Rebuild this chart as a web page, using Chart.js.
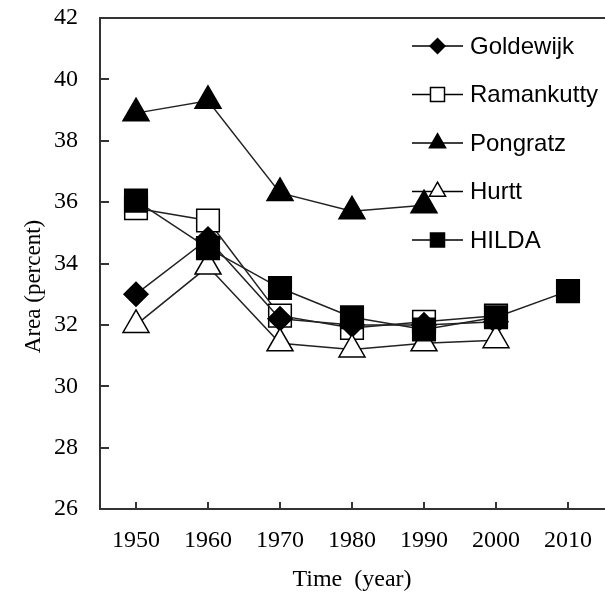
<!DOCTYPE html>
<html>
<head>
<meta charset="utf-8">
<script src="https://cdn.jsdelivr.net/npm/chart.js@4.4.1/dist/chart.umd.min.js"></script>
<style>
  html, body { margin: 0; padding: 0; background: #fff; overflow: hidden; }
  #wrap { width: 605px; height: 598px; }
</style>
</head>
<body>
<div id="wrap"><canvas id="areaChart"></canvas></div>
<script>
// Land area share per data source
const YEARS = ['1950', '1960', '1970', '1980', '1990', '2000', '2010'];
const Y_TICKS = [26, 28, 30, 32, 34, 36, 38, 40, 42];
const GOLDEWIJK = [33.0, 34.8, 32.2, 32.0, 32.0, 32.1, null];
const RAMANKUTTY = [35.8, 35.4, 32.3, 31.9, 32.1, 32.3, null];
const PONGRATZ = [38.9, 39.3, 36.3, 35.7, 35.9, null, null];
const HURTT = [32.0, 33.9, 31.4, 31.2, 31.4, 31.5, null];
const HILDA = [36.05, 34.5, 33.2, 32.25, 31.85, 32.25, 33.1];

const AXIS_COLOR = '#333';
const LINE_COLOR = '#222';

function series(label, data, style, fill, radius, order) {
  return {
    label: label,
    data: data,
    borderColor: LINE_COLOR,
    borderWidth: 1.5,
    pointStyle: style,
    pointRadius: radius,
    pointHoverRadius: radius,
    pointBackgroundColor: fill,
    pointBorderColor: '#000',
    pointBorderWidth: 1.5,
    spanGaps: false,
    tension: 0,
    order: order,
    legendRadius: radius * 0.62
  };
}

// inward tick marks + top frame line
const frameTicks = {
  id: 'frameTicks',
  afterDraw(chart) {
    const ctx = chart.ctx;
    const area = chart.chartArea;
    const xs = chart.scales.x;
    const ys = chart.scales.y;
    ctx.save();
    ctx.strokeStyle = AXIS_COLOR;
    ctx.lineWidth = 2;
    ctx.beginPath();
    ctx.moveTo(area.left - 1, area.top);
    ctx.lineTo(area.right + 2, area.top);
    ys.ticks.forEach(t => {
      const y = Math.round(ys.getPixelForValue(t.value));
      ctx.moveTo(area.left, y);
      ctx.lineTo(area.left + 9, y);
    });
    xs.ticks.forEach((t, i) => {
      const x = Math.round(xs.getPixelForTick(i));
      ctx.moveTo(x, area.bottom);
      ctx.lineTo(x, area.bottom - 7);
    });
    ctx.stroke();
    ctx.restore();
  }
};

// legend: line through marker, stacked in the upper right
const lineLegend = {
  id: 'lineLegend',
  afterDraw(chart) {
    const ctx = chart.ctx;
    const area = chart.chartArea;
    ctx.save();
    chart.data.datasets.forEach((ds, i) => {
      const y = area.top + 28 + i * 48.5;
      const x0 = area.right - 192;
      const x1 = area.right - 141;
      const xm = (x0 + x1) / 2;
      ctx.strokeStyle = '#000';
      ctx.lineWidth = 1.5;
      ctx.beginPath();
      ctx.moveTo(x0, y);
      ctx.lineTo(x1, y);
      ctx.stroke();
      ctx.fillStyle = ds.pointBackgroundColor;
      ctx.strokeStyle = '#000';
      ctx.lineWidth = 1.5;
      Chart.helpers.drawPoint(ctx, {
        pointStyle: ds.pointStyle,
        radius: ds.legendRadius,
        rotation: 0,
        borderWidth: 1.5
      }, xm, y);
      ctx.fillStyle = '#000';
      ctx.font = '24px "Liberation Sans", Arial, sans-serif';
      ctx.textAlign = 'left';
      ctx.textBaseline = 'middle';
      ctx.fillText(ds.label, area.right - 134, y + 1);
    });
    ctx.restore();
  }
};

const ctx = document.getElementById('areaChart').getContext('2d');
const areaChart = new Chart(ctx, {
  type: 'line',
  data: {
    labels: YEARS,
    datasets: [
      series('Goldewijk', GOLDEWIJK, 'rectRot', '#000', 12, 3),
      series('Ramankutty', RAMANKUTTY, 'rect', '#fff', 16, 5),
      series('Pongratz', PONGRATZ, 'triangle', '#000', 15, 4),
      series('Hurtt', HURTT, 'triangle', '#fff', 15, 2),
      series('HILDA', HILDA, 'rect', '#000', 16, 1)
    ]
  },
  options: {
    responsive: true,
    maintainAspectRatio: false,
    animation: false,
    layout: { autoPadding: false, padding: { top: 18, right: 1, left: 0, bottom: 0 } },
    plugins: {
      legend: { display: false },
      tooltip: { enabled: false }
    },
    scales: {
      x: {
        offset: true,
        grid: { display: true, drawOnChartArea: false, drawTicks: false, offset: false },
        border: { color: AXIS_COLOR, width: 2 },
        ticks: {
          color: '#000',
          padding: 17,
          maxRotation: 0,
          font: { family: '"Liberation Serif", "Times New Roman", serif', size: 24 }
        },
        title: {
          display: true,
          text: 'Time  (year)',
          color: '#000',
          padding: { top: 0, bottom: 4 },
          font: { family: '"Liberation Serif", "Times New Roman", serif', size: 24 }
        },
        afterFit(scale) {
          scale.height = 89;
          scale.paddingLeft = 0;
          scale.paddingRight = 0;
        }
      },
      y: {
        min: 26,
        max: 42,
        afterBuildTicks(scale) { scale.ticks = Y_TICKS.map(v => ({ value: v })); },
        grid: { display: true, drawOnChartArea: false, drawTicks: false },
        border: { color: AXIS_COLOR, width: 2 },
        ticks: {
          color: '#000',
          padding: 22,
          font: { family: '"Liberation Serif", "Times New Roman", serif', size: 24 }
        },
        title: {
          display: true,
          text: 'Area (percent)        ',
          color: '#000',
          padding: { top: 20, bottom: 0 },
          font: { family: '"Liberation Serif", "Times New Roman", serif', size: 23 }
        },
        afterFit(scale) {
          scale.width = 100;
          scale.paddingTop = 0;
          scale.paddingBottom = 0;
        }
      }
    }
  },
  plugins: [frameTicks, lineLegend]
});
</script>
</body>
</html>
